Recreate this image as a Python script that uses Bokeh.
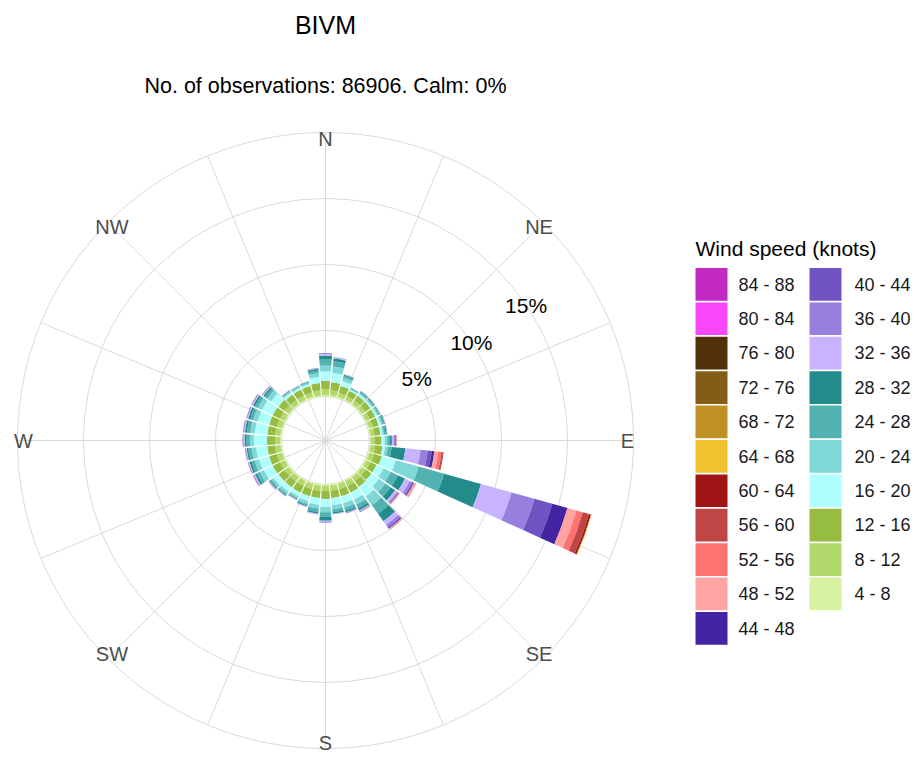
import math
from bokeh.plotting import figure
from bokeh.models import Range1d, ColumnDataSource
from bokeh.core.properties import value
from bokeh.embed import file_html
from bokeh.resources import INLINE

# ---------------- data ----------------
title_text = "BIVM"
subtitle_text = "No. of observations: 86906. Calm: 0%"
legend_title = "Wind speed (knots)"

directions = [10, 20, 30, 40, 50, 60, 70, 80, 90,
              100, 110, 120, 130, 140, 150, 160, 170, 180,
              190, 200, 210, 220, 230, 240, 250, 260, 270,
              280, 290, 300, 310, 320, 330, 340, 350, 360]

speed_bins = ["4 - 8", "8 - 12", "12 - 16", "16 - 20", "20 - 24", "24 - 28", "28 - 32",
              "32 - 36", "36 - 40", "40 - 44", "44 - 48", "48 - 52", "52 - 56", "56 - 60",
              "60 - 64", "64 - 68", "68 - 72", "72 - 76", "76 - 80", "80 - 84", "84 - 88"]

bin_colors = ["#D7F2A0", "#B3D86B", "#96BD42", "#B0FFFF", "#80D7D7", "#52B1B1", "#228C8A",
              "#C7B3FF", "#977FDD", "#7052C3", "#4524A3", "#FFA3A3", "#FF7272", "#C04545",
              "#9F1515", "#F2C12E", "#BF9024", "#835C15", "#523008", "#F948F9", "#C22AC3"]

# frequency (%) per direction (10..360 deg) for each speed bin
ws_04_08 = [0.10, 0.10, 0.10, 0.10, 0.10, 0.10, 0.10, 0.10, 0.10,
            0.10, 0.10, 0.10, 0.10, 0.10, 0.10, 0.10, 0.10, 0.10,
            0.10, 0.10, 0.10, 0.10, 0.10, 0.10, 0.10, 0.10, 0.10,
            0.10, 0.10, 0.10, 0.10, 0.10, 0.10, 0.10, 0.10, 0.10]
ws_08_12 = [0.40, 0.35, 0.30, 0.30, 0.30, 0.30, 0.30, 0.30, 0.30,
            0.35, 0.40, 0.35, 0.35, 0.35, 0.40, 0.40, 0.40, 0.40,
            0.40, 0.40, 0.40, 0.40, 0.40, 0.40, 0.40, 0.40, 0.40,
            0.40, 0.40, 0.40, 0.40, 0.35, 0.35, 0.35, 0.40, 0.45]
ws_12_16 = [0.60, 0.50, 0.45, 0.45, 0.45, 0.45, 0.45, 0.45, 0.50,
            0.55, 0.60, 0.50, 0.50, 0.55, 0.55, 0.55, 0.55, 0.60,
            0.55, 0.55, 0.55, 0.55, 0.55, 0.60, 0.60, 0.60, 0.60,
            0.60, 0.60, 0.60, 0.55, 0.50, 0.50, 0.50, 0.55, 0.65]
ws_16_20 = [0.70, 0.40, 0.10, 0.15, 0.15, 0.15, 0.18, 0.15, 0.25,
            0.20, 1.10, 0.60, 0.70, 0.90, 0.60, 0.55, 0.55, 0.60,
            0.50, 0.40, 0.30, 0.40, 0.45, 0.75, 0.80, 0.85, 1.00,
            0.95, 0.90, 0.90, 0.70, 0.20, 0.15, 0.17, 0.45, 0.70]
ws_20_24 = [0.50, 0.25, 0.06, 0.10, 0.10, 0.12, 0.13, 0.12, 0.20,
            0.20, 1.80, 0.60, 0.60, 0.80, 0.40, 0.35, 0.30, 0.40,
            0.30, 0.20, 0.15, 0.20, 0.20, 0.35, 0.35, 0.35, 0.30,
            0.35, 0.35, 0.35, 0.35, 0.10, 0.08, 0.10, 0.30, 0.45]
ws_24_28 = [0.40, 0.15, 0.05, 0.10, 0.10, 0.09, 0.12, 0.13, 0.20,
            0.30, 2.00, 0.60, 0.50, 0.80, 0.30, 0.25, 0.22, 0.35,
            0.25, 0.12, 0.10, 0.12, 0.14, 0.25, 0.25, 0.25, 0.25,
            0.25, 0.25, 0.25, 0.22, 0.07, 0.06, 0.07, 0.20, 0.45]
ws_28_32 = [0.20, 0.08, 0.03, 0.06, 0.06, 0.05, 0.07, 0.10, 0.15,
            1.05, 2.90, 0.60, 0.40, 0.70, 0.20, 0.12, 0.12, 0.30,
            0.12, 0.07, 0.05, 0.07, 0.08, 0.15, 0.15, 0.12, 0.15,
            0.15, 0.15, 0.15, 0.14, 0.04, 0.03, 0.03, 0.12, 0.30]
ws_32_36 = [0.06, 0.05, 0.01, 0.03, 0.03, 0.03, 0.04, 0.04, 0.15,
            1.15, 2.40, 0.40, 0.20, 0.35, 0.07, 0.05, 0.04, 0.10,
            0.05, 0.04, 0.03, 0.04, 0.05, 0.10, 0.08, 0.07, 0.08,
            0.08, 0.08, 0.08, 0.08, 0.03, 0.02, 0.02, 0.05, 0.12]
ws_36_40 = [0.03, 0.02, 0.00, 0.01, 0.01, 0.01, 0.01, 0.01, 0.10,
            0.55, 1.80, 0.20, 0.10, 0.20, 0.04, 0.02, 0.02, 0.03,
            0.03, 0.02, 0.02, 0.02, 0.02, 0.05, 0.04, 0.04, 0.04,
            0.04, 0.04, 0.04, 0.04, 0.01, 0.01, 0.01, 0.03, 0.05]
ws_40_44 = [0.01, 0.00, 0.00, 0.00, 0.00, 0.00, 0.00, 0.00, 0.05,
            0.30, 1.40, 0.10, 0.05, 0.10, 0.02, 0.01, 0.00, 0.02,
            0.00, 0.00, 0.00, 0.00, 0.01, 0.02, 0.02, 0.02, 0.02,
            0.02, 0.02, 0.02, 0.02, 0.00, 0.00, 0.00, 0.00, 0.03]
ws_44_48 = [0.00, 0.00, 0.00, 0.00, 0.00, 0.00, 0.00, 0.00, 0.02,
            0.20, 1.20, 0.05, 0.02, 0.05, 0.01, 0.00, 0.00, 0.00,
            0.00, 0.00, 0.00, 0.00, 0.00, 0.00, 0.00, 0.00, 0.01,
            0.01, 0.01, 0.01, 0.00, 0.00, 0.00, 0.00, 0.00, 0.00]
ws_48_52 = [0.00, 0.00, 0.00, 0.00, 0.00, 0.00, 0.00, 0.00, 0.05,
            0.30, 0.70, 0.10, 0.05, 0.07, 0.01, 0.00, 0.00, 0.00,
            0.00, 0.00, 0.00, 0.00, 0.00, 0.02, 0.01, 0.00, 0.00,
            0.00, 0.00, 0.00, 0.00, 0.00, 0.00, 0.00, 0.00, 0.00]
ws_52_56 = [0.00, 0.00, 0.00, 0.00, 0.00, 0.00, 0.00, 0.00, 0.03,
            0.25, 0.50, 0.05, 0.03, 0.03, 0.00, 0.00, 0.00, 0.00,
            0.00, 0.00, 0.00, 0.00, 0.00, 0.01, 0.00, 0.00, 0.00,
            0.00, 0.00, 0.00, 0.00, 0.00, 0.00, 0.00, 0.00, 0.00]
ws_56_60 = [0.00, 0.00, 0.00, 0.00, 0.00, 0.00, 0.00, 0.00, 0.00,
            0.10, 0.50, 0.02, 0.00, 0.00, 0.00, 0.00, 0.00, 0.00,
            0.00, 0.00, 0.00, 0.00, 0.00, 0.00, 0.00, 0.00, 0.00,
            0.00, 0.00, 0.00, 0.00, 0.00, 0.00, 0.00, 0.00, 0.00]
ws_60_64 = [0.00, 0.00, 0.00, 0.00, 0.00, 0.00, 0.00, 0.00, 0.00,
            0.05, 0.15, 0.00, 0.00, 0.00, 0.00, 0.00, 0.00, 0.00,
            0.00, 0.00, 0.00, 0.00, 0.00, 0.00, 0.00, 0.00, 0.00,
            0.00, 0.00, 0.00, 0.00, 0.00, 0.00, 0.00, 0.00, 0.00]
ws_64_68 = [0.00, 0.00, 0.00, 0.00, 0.00, 0.00, 0.00, 0.00, 0.00,
            0.00, 0.05, 0.00, 0.00, 0.00, 0.00, 0.00, 0.00, 0.00,
            0.00, 0.00, 0.00, 0.00, 0.00, 0.00, 0.00, 0.00, 0.00,
            0.00, 0.00, 0.00, 0.00, 0.00, 0.00, 0.00, 0.00, 0.00]
ws_68_72 = [0.00] * 36
ws_72_76 = [0.00] * 36
ws_76_80 = [0.00] * 36
ws_80_84 = [0.00] * 36
ws_84_88 = [0.00] * 36

freq_by_bin = [ws_04_08, ws_08_12, ws_12_16, ws_16_20, ws_20_24, ws_24_28, ws_28_32,
               ws_32_36, ws_36_40, ws_40_44, ws_44_48, ws_48_52, ws_52_56, ws_56_60,
               ws_60_64, ws_64_68, ws_68_72, ws_72_76, ws_76_80, ws_80_84, ws_84_88]

grid_pcts = [0, 5, 10, 15, 20]
pct_label_values = [5, 10, 15]
compass_names = ["N", "NE", "E", "SE", "S", "SW", "W", "NW"]
compass_bearings = [0, 45, 90, 135, 180, 225, 270, 315]

# ---------------- geometry (layout) ----------------
S = 13.2                 # pixels per percent
CX, CY = 325.0, 440.0    # centre in page pixels
OFF = 44.0 / S           # hole offset (in %)
W, H = 914, 756
FONT = value("Liberation Sans")


def px(x, y):
    return (x - CX) / S, (CY - y) / S


p = figure(width=W, height=H, output_backend="svg", toolbar_location=None,
           x_range=Range1d((0 - CX) / S, (W - CX) / S),
           y_range=Range1d((CY - H) / S, CY / S),
           min_border=0, outline_line_color=None)
p.axis.visible = False
p.grid.visible = False
p.background_fill_color = "white"
p.border_fill_color = "white"

rmax = OFF + grid_pcts[-1]
grid_col = "#D9D9D9"

# spokes every 22.5 degrees
spoke_b = [i * 22.5 for i in range(16)]
p.segment(x0=[0.0] * 16, y0=[0.0] * 16,
          x1=[rmax * math.sin(math.radians(b)) for b in spoke_b],
          y1=[rmax * math.cos(math.radians(b)) for b in spoke_b],
          line_color=grid_col, line_width=1)
# rings
p.circle(x=[0.0] * len(grid_pcts), y=[0.0] * len(grid_pcts),
         radius=[OFF + g for g in grid_pcts], fill_color=None,
         line_color=grid_col, line_width=1)

# petals
half = 4.4
inner, outer, start, end, cols = [], [], [], [], []
for i, d in enumerate(directions):
    cum = 0.0
    for j, series in enumerate(freq_by_bin):
        v = series[i]
        if v <= 0:
            continue
        inner.append(OFF + cum)
        cum += v
        outer.append(OFF + cum)
        a = 90.0 - d
        start.append(math.radians(a - half))
        end.append(math.radians(a + half))
        cols.append(bin_colors[j])
src = ColumnDataSource(dict(inner=inner, outer=outer, start=start, end=end, color=cols))
p.annular_wedge(x=0, y=0, inner_radius="inner", outer_radius="outer",
                start_angle="start", end_angle="end", fill_color="color",
                line_color=None, source=src)

# compass labels
lab_r = 302.0 / S
p.text(x=[lab_r * math.sin(math.radians(b)) for b in compass_bearings],
       y=[lab_r * math.cos(math.radians(b)) for b in compass_bearings],
       text=compass_names, text_font=FONT, text_font_size="20px",
       text_color="#4D4D4D", text_align="center", text_baseline="middle")

# percentage labels
ang = math.radians(56)
p.text(x=[(OFF + v) * math.sin(ang) for v in pct_label_values],
       y=[(OFF + v) * math.cos(ang) for v in pct_label_values],
       text=[f"{v}%" for v in pct_label_values], text_font=FONT,
       text_font_size="21px", text_color="#000000",
       text_align="center", text_baseline="middle")

# titles
tx, ty = px(325, 24)
p.text(x=[tx], y=[ty], text=[title_text], text_font=FONT, text_font_size="25px",
       text_color="#000000", text_align="center", text_baseline="middle")
sx, sy = px(325, 85)
p.text(x=[sx], y=[sy], text=[subtitle_text], text_font=FONT, text_font_size="21.5px",
       text_color="#000000", text_align="center", text_baseline="middle")

# legend
lx, ly = px(695, 248)
p.text(x=[lx], y=[ly], text=[legend_title], text_font=FONT, text_font_size="21px",
       text_color="#000000", text_align="left", text_baseline="middle")

col1 = list(range(20, 9, -1))   # 84-88 ... 44-48
col2 = list(range(9, -1, -1))   # 40-44 ... 4-8
L, R, T, B, C, TX, TY, TT = [], [], [], [], [], [], [], []
for col_idx, idxs in enumerate([col1, col2]):
    bx0 = 695 if col_idx == 0 else 809
    tx0 = 738 if col_idx == 0 else 854
    for k, j in enumerate(idxs):
        top = 267.5 + 34.4 * k
        x0, y0 = px(bx0, top)
        x1, y1 = px(bx0 + 32, top + 32.7)
        L.append(x0); R.append(x1); T.append(y0); B.append(y1)
        C.append(bin_colors[j])
        a, b = px(tx0, top + 16.5)
        TX.append(a); TY.append(b); TT.append(speed_bins[j])
p.quad(left=L, right=R, top=T, bottom=B, fill_color=C, line_color=None)
p.text(x=TX, y=TY, text=TT, text_font=FONT, text_font_size="18px",
       text_color="#1A1A1A", text_align="left", text_baseline="middle")

open("out.html", "w").write(file_html(p, INLINE))
